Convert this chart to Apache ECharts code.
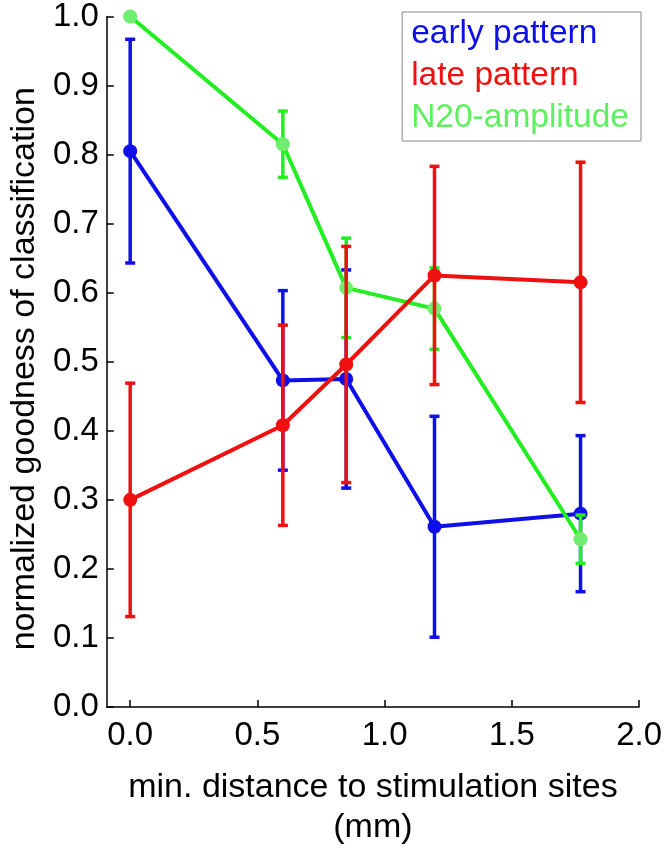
<!DOCTYPE html>
<html>
<head>
<meta charset="utf-8">
<script src="https://cdn.jsdelivr.net/npm/echarts@6/dist/echarts.min.js"></script>
<style>html,body{margin:0;padding:0;background:#fff;}#c{width:665px;height:853px;}</style>
</head>
<body>
<div id="c"></div>
<script>
// distance (mm)
const xValues = [0, 0.6, 0.849, 1.196, 1.77];
const earlyMean = [0.805, 0.473, 0.475, 0.261, 0.280];
const earlyErr  = [0.162, 0.130, 0.158, 0.160, 0.113];
const lateMean  = [0.300, 0.408, 0.496, 0.625, 0.615];
const lateErr   = [0.169, 0.145, 0.171, 0.158, 0.174];
const n20Mean   = [1.0, 0.815, 0.607, 0.577, 0.243];
const n20Err    = [0, 0.048, 0.072, 0.059, 0.035];
const xTicks = [0, 0.5, 1.0, 1.5, 2.0];
const seriesNames = ['early pattern', 'late pattern', 'N20-amplitude'];

const BLUE = '#0f0fe8', RED = '#f01010', GREEN = '#22ee22', GREEN_DOT = '#70ee70', GREEN_TXT = '#5ef05e';
const FONT = '"Liberation Sans", Arial, sans-serif';

function pts(mean) { return xValues.map((x, i) => [x, mean[i]]); }
function errData(mean, err) { return xValues.map((x, i) => [x, mean[i] - err[i], mean[i] + err[i]]); }
function errSeries(mean, err, color, z) {
  return {
    type: 'custom', z: z, silent: true,
    data: errData(mean, err).filter(d => d[2] - d[1] > 0),
    renderItem: function (params, api) {
      const x = api.value(0);
      const lo = api.coord([x, api.value(1)]);
      const hi = api.coord([x, api.value(2)]);
      const hw = 5;
      const st = { stroke: color, lineWidth: 3.5 };
      return { type: 'group', children: [
        { type: 'line', shape: { x1: lo[0], y1: lo[1], x2: hi[0], y2: hi[1] }, style: st },
        { type: 'line', shape: { x1: lo[0] - hw, y1: lo[1], x2: lo[0] + hw, y2: lo[1] }, style: st },
        { type: 'line', shape: { x1: hi[0] - hw, y1: hi[1], x2: hi[0] + hw, y2: hi[1] }, style: st }
      ]};
    }
  };
}

const chart = echarts.init(document.getElementById('c'), null, { renderer: 'canvas' });
chart.setOption({
  animation: false,
  backgroundColor: '#fff',
  grid: { left: 97, right: 24, top: 11, bottom: 136 },
  legend: {
    orient: 'vertical', right: 24, top: 12,
    data: [
      { name: seriesNames[0], textStyle: { color: BLUE } },
      { name: seriesNames[1], textStyle: { color: RED } },
      { name: seriesNames[2], textStyle: { color: GREEN_TXT } }
    ],
    icon: 'none', itemWidth: 0, itemHeight: 0, itemGap: 8,
    borderColor: '#888', borderWidth: 1, padding: [5, 12, 6, 4],
    textStyle: { fontSize: 33.5, fontFamily: FONT }
  },
  xAxis: {
    type: 'value', min: -0.092, max: 2.0,
    name: 'min. distance to stimulation sites\n(mm)', nameLocation: 'middle', nameGap: 61,
    nameTextStyle: { fontSize: 34, fontFamily: FONT, color: '#000', lineHeight: 40 },
    axisLine: { show: true, onZero: false, lineStyle: { color: '#000', width: 1.5 } },
    axisTick: { show: true, inside: true, length: 7, customValues: xTicks, lineStyle: { color: '#000', width: 1.5 } },
    axisLabel: { customValues: xTicks, formatter: v => v.toFixed(1), fontSize: 33, fontFamily: FONT, color: '#000', margin: 12 },
    splitLine: { show: false }
  },
  yAxis: {
    type: 'value', min: 0, max: 1, interval: 0.1,
    name: 'normalized goodness of classification', nameLocation: 'middle', nameGap: 64,
    nameTextStyle: { fontSize: 34, fontFamily: FONT, color: '#000', padding: [0, 14, 0, 0] },
    axisLine: { show: true, onZero: false, lineStyle: { color: '#000', width: 1.5 } },
    axisTick: { show: true, inside: true, length: 7, lineStyle: { color: '#000', width: 1.5 } },
    axisLabel: { formatter: v => v.toFixed(1), fontSize: 33, fontFamily: FONT, color: '#000', margin: 8 },
    splitLine: { show: false }
  },
  series: [
    errSeries(earlyMean, earlyErr, BLUE, 2),
    { name: seriesNames[0], type: 'line', z: 3, data: pts(earlyMean), symbol: 'circle', symbolSize: 14,
      lineStyle: { color: BLUE, width: 4 }, itemStyle: { color: BLUE } },
    errSeries(n20Mean, n20Err, GREEN, 4),
    { name: seriesNames[2], type: 'line', z: 5, data: pts(n20Mean), symbol: 'circle', symbolSize: 14,
      lineStyle: { color: GREEN, width: 4 }, itemStyle: { color: GREEN_DOT } },
    errSeries(lateMean, lateErr, RED, 6),
    { name: seriesNames[1], type: 'line', z: 7, data: pts(lateMean), symbol: 'circle', symbolSize: 14,
      lineStyle: { color: RED, width: 4 }, itemStyle: { color: RED } }
  ]
});
</script>
</body>
</html>
